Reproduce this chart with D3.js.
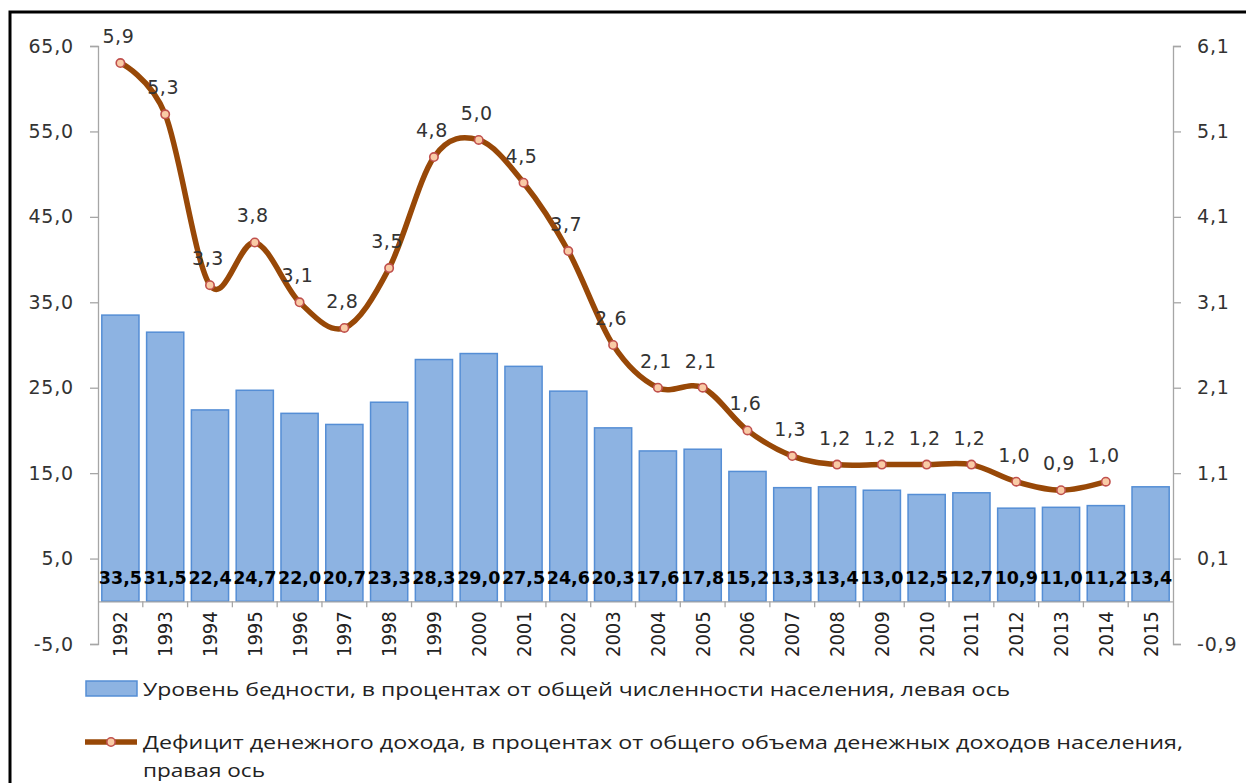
<!DOCTYPE html>
<html>
<head>
<meta charset="utf-8">
<script src="https://cdn.jsdelivr.net/npm/d3@7"></script>
<style>
  body { margin: 0; background: #fff; }
  svg { display: block; }
  text { font-family: "DejaVu Sans", Verdana, sans-serif; }
</style>
</head>
<body>
<svg id="chart" width="1246" height="783"></svg>
<script>
const years = ['1992','1993','1994','1995','1996','1997','1998','1999','2000','2001','2002','2003',
  '2004','2005','2006','2007','2008','2009','2010','2011','2012','2013','2014','2015'];
const poverty = [33.5, 31.5, 22.4, 24.7, 22.0, 20.7, 23.3, 28.3, 29.0, 27.5, 24.6, 20.3,
  17.6, 17.8, 15.2, 13.3, 13.4, 13.0, 12.5, 12.7, 10.9, 11.0, 11.2, 13.4];
const deficit = [5.9, 5.3, 3.3, 3.8, 3.1, 2.8, 3.5, 4.8, 5.0, 4.5, 3.7, 2.6,
  2.1, 2.1, 1.6, 1.3, 1.2, 1.2, 1.2, 1.2, 1.0, 0.9, 1.0];
const leftTicks = [-5, 5, 15, 25, 35, 45, 55, 65];
const rightTicks = [-0.9, 0.1, 1.1, 2.1, 3.1, 4.1, 5.1, 6.1];
const legendBars = 'Уровень бедности, в процентах от общей численности населения, левая ось';
const legendLine = ['Дефицит денежного дохода, в процентах от общего объема денежных доходов населения,', 'правая ось'];

const svg = d3.select('#chart');
const fmt = v => d3.format('.1f')(v).replace('.', ',').replace('\u2212', '-');

const plotL = 98, plotR = 1173, plotT = 46, plotB = 644;

const x = d3.scaleBand().domain(years).range([plotL, plotR]);
const yL = d3.scaleLinear().domain([-5, 65]).range([plotB, plotT]);
const yR = d3.scaleLinear().domain([-0.9, 6.1]).range([plotB, plotT]);

// frame
svg.append('path')
  .attr('d', 'M10,783 L10,12 L1250,12')
  .attr('fill', 'none')
  .attr('stroke', '#000')
  .attr('stroke-width', 3);

// bars
const bw = x.bandwidth();
svg.append('g').selectAll('rect')
  .data(poverty)
  .enter().append('rect')
  .attr('x', (d, i) => x(years[i]) + bw * 0.085)
  .attr('width', bw * 0.83)
  .attr('y', d => yL(d))
  .attr('height', d => yL(0) - yL(d))
  .attr('fill', '#8DB3E2')
  .attr('stroke', '#558ED5')
  .attr('stroke-width', 1.5);

// axes
const axisColor = '#a6a6a6';
const gl = svg.append('g').attr('transform', `translate(${plotL},0)`)
  .call(d3.axisLeft(yL).tickValues(leftTicks).tickFormat(fmt).tickSize(8).tickPadding(16));
const gr = svg.append('g').attr('transform', `translate(${plotR},0)`)
  .call(d3.axisRight(yR).tickValues(rightTicks).tickFormat(fmt).tickSize(8).tickPadding(16));
const gx = svg.append('g').attr('transform', `translate(0,${yL(0)})`)
  .call(d3.axisBottom(x).tickSize(0).tickFormat(''));

[gl, gr, gx].forEach(g => {
  g.select('.domain').attr('stroke', axisColor).attr('stroke-width', 1.3);
  g.selectAll('.tick line').attr('stroke', axisColor).attr('stroke-width', 1.3);
  g.selectAll('.tick text').attr('fill', '#333').style('font-size', '19px')
    .style('letter-spacing', '0.8px')
    .style('font-family', '"DejaVu Sans", Verdana, sans-serif');
});

// category ticks at band boundaries
svg.append('g').selectAll('line')
  .data(years.slice(1))
  .enter().append('line')
  .attr('x1', d => x(d)).attr('x2', d => x(d))
  .attr('y1', yL(0)).attr('y2', yL(0) + 6)
  .attr('stroke', axisColor).attr('stroke-width', 1.3);

// year labels
svg.append('g').selectAll('text')
  .data(years)
  .enter().append('text')
  .attr('transform', d => `translate(${x(d) + bw / 2 + 7},${yL(0) + 10}) rotate(-90)`)
  .attr('text-anchor', 'end')
  .attr('fill', '#222')
  .style('font-family', '"Liberation Sans Narrow", "DejaVu Sans Condensed", sans-serif')
  .style('font-size', '20px')
  .text(d => d);

// bar labels
svg.append('g').selectAll('text')
  .data(poverty)
  .enter().append('text')
  .attr('x', (d, i) => x(years[i]) + bw / 2)
  .attr('y', 584)
  .attr('text-anchor', 'middle')
  .attr('fill', '#000')
  .style('font-weight', 'bold')
  .style('font-size', '17.5px')
  .text(d => fmt(d));

// deficit line
const pts = deficit.map((v, i) => [x(years[i]) + bw / 2, yR(v)]);
svg.append('path')
  .attr('d', d3.line().curve(d3.curveCardinal.tension(0))(pts))
  .attr('fill', 'none')
  .attr('stroke', '#984807')
  .attr('stroke-width', 5.5)
  .attr('stroke-linejoin', 'round');

svg.append('g').selectAll('circle')
  .data(pts)
  .enter().append('circle')
  .attr('cx', d => d[0]).attr('cy', d => d[1])
  .attr('r', 4.2)
  .attr('fill', '#F9CBA6')
  .attr('stroke', '#C0504D')
  .attr('stroke-width', 1.6);

svg.append('g').selectAll('text')
  .data(deficit)
  .enter().append('text')
  .attr('x', (d, i) => pts[i][0] - 2)
  .attr('y', (d, i) => pts[i][1] - 20)
  .attr('text-anchor', 'middle')
  .attr('fill', '#333')
  .style('font-size', '19px')
  .style('letter-spacing', '0.6px')
  .text(d => fmt(d));

// legend
const lg = svg.append('g');
lg.append('rect')
  .attr('x', 86).attr('y', 681).attr('width', 51).attr('height', 15)
  .attr('fill', '#8DB3E2').attr('stroke', '#558ED5').attr('stroke-width', 1.5);
lg.append('text')
  .attr('x', 143).attr('y', 696)
  .attr('fill', '#222').style('font-size', '19px')
  .style('font-family', '"Open Sans", sans-serif')
  .attr('textLength', 867).attr('lengthAdjust', 'spacingAndGlyphs')
  .text(legendBars);
lg.append('line')
  .attr('x1', 85).attr('x2', 137).attr('y1', 742).attr('y2', 742)
  .attr('stroke', '#984807').attr('stroke-width', 5.5);
lg.append('circle')
  .attr('cx', 111).attr('cy', 742).attr('r', 4.2)
  .attr('fill', '#F9CBA6').attr('stroke', '#C0504D').attr('stroke-width', 1.6);
const lineWidths = [1040, 122];
lg.selectAll('.ll')
  .data(legendLine)
  .enter().append('text')
  .attr('x', 143).attr('y', (d, i) => 749 + i * 28)
  .attr('fill', '#222').style('font-size', '19px')
  .style('font-family', '"Open Sans", sans-serif')
  .attr('textLength', (d, i) => lineWidths[i]).attr('lengthAdjust', 'spacingAndGlyphs')
  .text(d => d);
</script>
</body>
</html>
